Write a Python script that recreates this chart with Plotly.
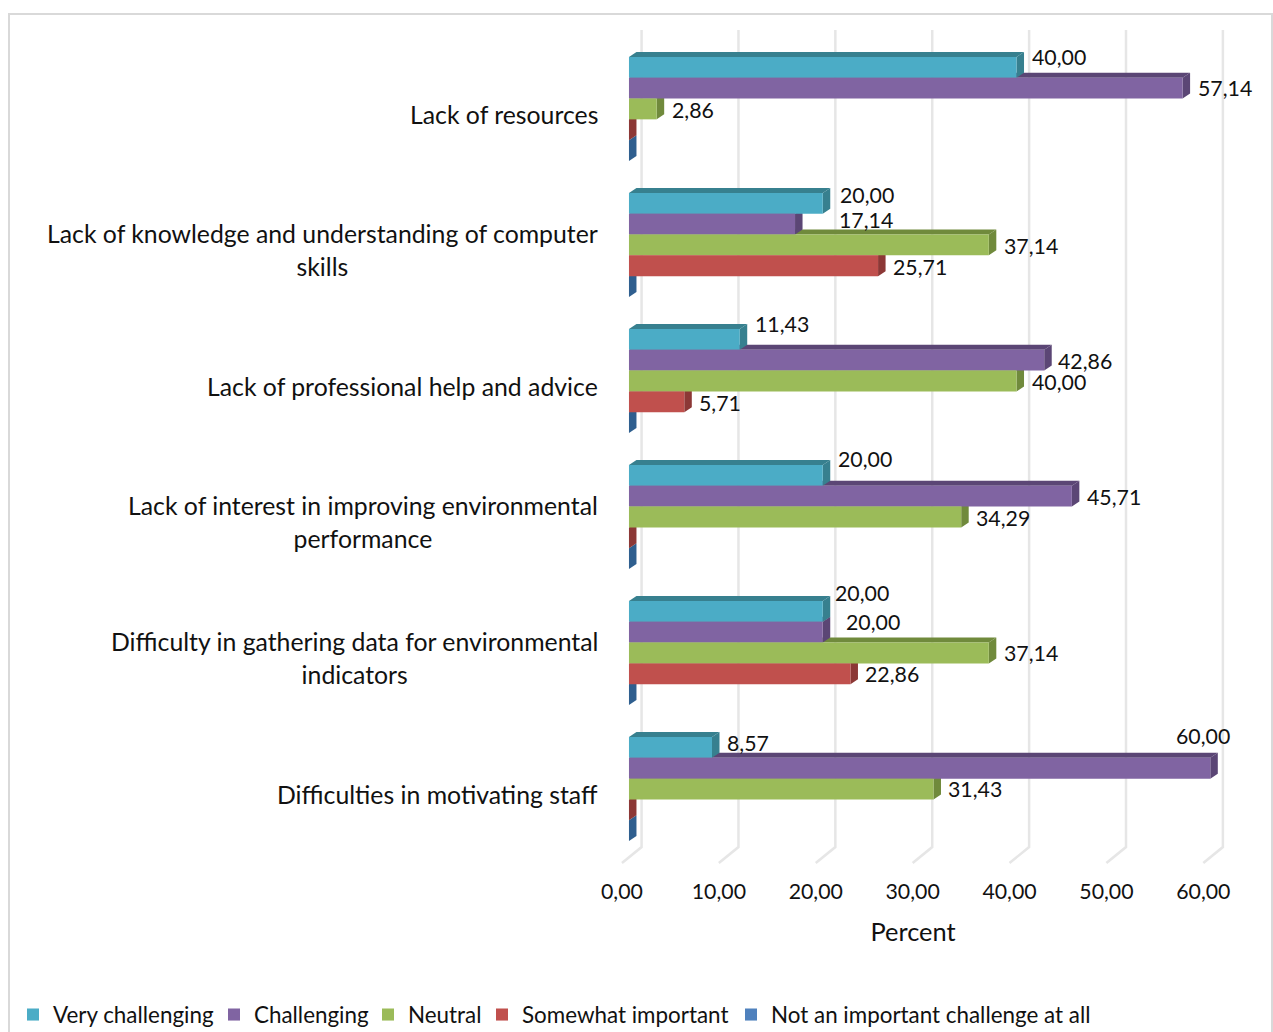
import plotly.graph_objects as go

CATEGORIES = [
    "Lack of resources",
    "Lack of knowledge and understanding of computer<br>skills",
    "Lack of professional help and advice",
    "Lack of interest in improving environmental<br>performance",
    "Difficulty in gathering data for environmental<br>indicators",
    "Difficulties in motivating staff",
]
SERIES = ["Very challenging", "Challenging", "Neutral", "Somewhat important", "Not an important challenge at all"]
VERY_CHALLENGING = [40.00, 20.00, 11.43, 20.00, 20.00, 8.57]
CHALLENGING = [57.14, 17.14, 42.86, 45.71, 20.00, 60.00]
NEUTRAL = [2.86, 37.14, 40.00, 34.29, 37.14, 31.43]
SOMEWHAT_IMPORTANT = [0, 25.71, 5.71, 0, 22.86, 0]
NOT_IMPORTANT = [0, 0, 0, 0, 0, 0]
X_TICKS = [0, 10, 20, 30, 40, 50, 60]
X_TICK_LABELS = ["0,00", "10,00", "20,00", "30,00", "40,00", "50,00", "60,00"]

VALUES = [VERY_CHALLENGING, CHALLENGING, NEUTRAL, SOMEWHAT_IMPORTANT, NOT_IMPORTANT]
FRONT = ["#4bacc6", "#8064a2", "#9bbb59", "#c0504d", "#4f81bd"]
DARK = ["#37808f", "#5b4675", "#708a3c", "#8c3836", "#2f5f8f"]
FONT = "Lato"
FS = 21.3
FS_CAT = 24.8
FS_LEG = 22.4
FS_TITLE = 25.4
INK = "#111111"

# page-pixel layout
PAGE = 0
W, H = 1273, 1032
XR = [-3.3, 61.93]
YR = [5.632, -0.654]
X0_PX, X_SCALE = 629, 632 / (XR[1] - XR[0])
Y0_PX, Y_SCALE = 109, 136.0
L, T = 597 - PAGE, 20 - PAGE
PW, PH = 632, 855
DX, DY = 7.5 / X_SCALE, 5 / Y_SCALE        # bar depth in axis units
BAR = (1 - 32 / 136) / 5

# fine placement of the value labels (px from the default spot)
LABEL_DX = [[0, 2, 0, 0, -3, 0], [0, 29, -1, 0, 8, -49], [0, 0, 0, 0, 0, 0], [0, 0, 0, 0, 0, 0]]
LABEL_DY = [[-9.4, -7.4, -14.4, -15.4, -17.4, -3.4],
            [0.8, -3.2, 1.8, 1.8, -9.2, -31.2],
            [2, 2, 2, 2, 1, 1],
            [0, 2.2, 2.2, 0, 1.2, 0]]

fig = go.Figure()

# back-wall gridlines with their floor segments
gx, gy = [], []
g_top, g_back, g_front = (30 - Y0_PX) / Y_SCALE, (847 - Y0_PX) / Y_SCALE, (863 - Y0_PX) / Y_SCALE
for t in X_TICKS:
    gx += [t + 12.6 / X_SCALE, t + 12.6 / X_SCALE, t - 7 / X_SCALE, None]
    gy += [g_top, g_back, g_front, None]
fig.add_trace(go.Scatter(x=gx, y=gy, mode="lines", line=dict(color="#e6e6e6", width=2.5),
                         showlegend=False, hoverinfo="skip"))


def centre(g, k):
    return g + (k - 2) * BAR


# depth faces, painted from the lowest series upward
for k in range(4, -1, -1):
    tx, ty, sx, sy = [], [], [], []
    for g, v in enumerate(VALUES[k]):
        yt, yb = centre(g, k) - BAR / 2, centre(g, k) + BAR / 2
        if v > 0:
            tx += [0, DX, v + DX, v, 0, None]
            ty += [yt, yt - DY, yt - DY, yt, yt, None]
        sx += [v, v + DX, v + DX, v, v, None]
        sy += [yt, yt - DY, yb - DY, yb, yt, None]
    for xs, ys in ((tx, ty), (sx, sy)):
        fig.add_trace(go.Scatter(x=xs, y=ys, mode="lines", fill="toself", fillcolor=DARK[k],
                                 line=dict(width=0, color=DARK[k]), showlegend=False, hoverinfo="skip"))

# front faces
for k, name in enumerate(SERIES):
    fig.add_trace(go.Bar(
        y=list(range(len(CATEGORIES))), x=VALUES[k], name=name, orientation="h",
        marker=dict(color=FRONT[k], line=dict(width=0)),
        xaxis="x2", yaxis="y2", legend="legend" if k == 0 else f"legend{k + 1}",
    ))

ann = []
for g, label in enumerate(CATEGORIES):
    ann.append(dict(text=f'<span style="font-size:{FS_CAT}px">{label}</span>', xref="paper", x=(600 - PAGE - L) / PW,
                    yref="y", y=g, yshift=-5.2, xanchor="right", yanchor="middle", align="center",
                    showarrow=False, font=dict(family=FONT, size=25.4, color=INK)))
for k in range(4):
    for g, v in enumerate(VALUES[k]):
        if v > 0:
            ann.append(dict(text=f"{v:.2f}".replace(".", ","), x=v, y=centre(g, k), xanchor="left", yanchor="middle",
                            xshift=13 + LABEL_DX[k][g], yshift=1.2 - LABEL_DY[k][g], showarrow=False,
                            font=dict(family=FONT, size=FS, color=INK)))

LEGEND_TEXT_X = [53, 254, 408, 522, 771]
legends = {}
for k, tx in enumerate(LEGEND_TEXT_X):
    key = "legend" if k == 0 else f"legend{k + 1}"
    legends[key] = dict(x=(tx - 40 - PAGE - L) / PW, xanchor="left", y=-(1015 - PAGE - T - PH) / PH, yanchor="middle",
                        orientation="h", bgcolor="rgba(0,0,0,0)", font=dict(family=FONT, size=FS_LEG, color=INK),
                        borderwidth=0)

fig.update_layout(
    width=W, height=H, margin=dict(l=L, t=T, r=W - L - PW, b=H - T - PH, pad=0, autoexpand=False),
    paper_bgcolor="white", plot_bgcolor="white", barmode="group", bargap=32 / 136, bargroupgap=0,
    xaxis=dict(range=XR, tickmode="array", tickvals=[t - 7 / X_SCALE for t in X_TICKS], ticktext=X_TICK_LABELS,
               showgrid=False, zeroline=False, showline=False, ticks="", ticklabelstandoff=2,
               tickfont=dict(family=FONT, size=FS, color=INK),
               title=dict(text="Percent", font=dict(family=FONT, size=FS_TITLE, color=INK), standoff=19)),
    yaxis=dict(range=YR, showticklabels=False, showgrid=False, zeroline=False, showline=False, ticks=""),
    xaxis2=dict(range=XR, overlaying="x", visible=False),
    yaxis2=dict(range=YR, overlaying="y", visible=False),
    annotations=ann,
    shapes=[dict(type="rect", xref="paper", yref="paper", layer="below",
                 x0=(9 - PAGE - L) / PW, x1=(1272 - PAGE - L) / PW,
                 y0=-0.3, y1=1 + (T - (14 - PAGE)) / PH,
                 line=dict(color="#d9d9d9", width=2))],
    **legends,
)

fig.write_html("out.html", config={"displayModeBar": False},
               post_script="document.body.style.margin='0';document.documentElement.style.overflow='hidden';")
